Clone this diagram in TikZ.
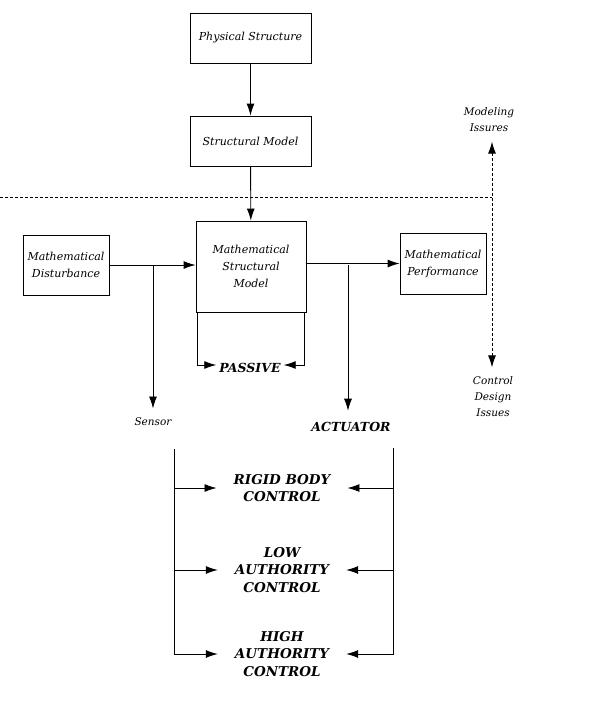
\documentclass[tikz,border=0pt]{standalone}
\usepackage{fontspec}
\setmainfont{DejaVu Serif}
\usepackage{tikz}
\usetikzlibrary{arrows.meta}

\tikzset{
    box/.style={draw, line width=0.9pt, align=center, inner sep=1pt,
        font=\fontsize{11}{17}\selectfont\itshape},
    bigtxt/.style={align=center, inner xsep=17pt,
        font=\fontsize{13.5}{17.5}\selectfont\bfseries\itshape},
    smalltxt/.style={align=center, font=\fontsize{10.5}{16}\selectfont\itshape},
    link/.style={line width=0.9pt, -{Latex[length=12pt,width=8pt]}},
    issue/.style={line width=0.9pt, dash pattern=on 2.5pt off 2.5pt},
}

\begin{document}
\begin{tikzpicture}[x=1pt, y=-1pt]
        \useasboundingbox (0,0) rectangle (590,710);

        \node[box, minimum width=121pt, minimum height=50pt] (phys) at (250.5,38)  {Physical Structure};
        \node[box, minimum width=121pt, minimum height=50pt] (smod) at (250.5,141) {Structural Model};
        \node[box, minimum width=86pt,  minimum height=60pt] (dist) at (66,265)    {Mathematical\\Disturbance};
        \node[box, minimum width=110pt, minimum height=91pt] (msm)  at (251,266.5) {Mathematical\\Structural\\Model};
        \node[box, minimum width=86pt,  minimum height=61pt] (perf) at (443,263.5) {Mathematical\\Performance};

        \node[bigtxt, inner xsep=3pt, font=\fontsize{12.5}{17}\selectfont\bfseries\itshape] (passive) at (250,368) {PASSIVE};
        \node[smalltxt] (sensor) at (153,422) {Sensor};
        \node[bigtxt, inner xsep=3pt, font=\fontsize{12.5}{17}\selectfont\bfseries\itshape] (actuator) at (351,427) {ACTUATOR};

        \node[bigtxt] (rigid) at (282,488) {RIGID BODY\\CONTROL};
        \node[bigtxt] (low)   at (282,570) {LOW\\AUTHORITY\\CONTROL};
        \node[bigtxt] (high)  at (282,654) {HIGH\\AUTHORITY\\CONTROL};

        \node[smalltxt] (modiss) at (489,120) {Modeling\\Issures};
        \node[smalltxt] (ctliss) at (493,397) {Control\\Design\\Issues};

        \coordinate (dleft)  at (0,197);
        \coordinate (dcross) at (492,197);
        \coordinate (sbr)    at (153,265);
        \coordinate (abr)    at (348,265);
        \coordinate (stop)   at (174,449);
        \coordinate (atop)   at (393,448);

        \draw[link] (phys) -- (smod);
        \draw[link] (smod) -- (msm);
        \draw[link] (dist.east) -- (dist.east -| msm.west);
        \draw[link] (msm.east |- perf.west) -- (perf.west);

        \draw[link, shorten >=6pt] (sbr) -- (sbr |- sensor.north);
        \draw[link, shorten >=8pt] (abr) -- (abr |- actuator.north);

        \draw[link] ([xshift=2pt]msm.south west) |- ([yshift=3pt]passive.west);
        \draw[link] ([xshift=-2pt]msm.south east) |- ([yshift=3pt]passive.east);

        \draw[link] (stop) |- (high.west);
        \draw[link] (rigid.west -| stop) -- (rigid.west);
        \draw[link] (low.west -| stop) -- (low.west);
        \draw[link] (atop) |- (high.east);
        \draw[link] (rigid.east -| atop) -- (rigid.east);
        \draw[link] (low.east -| atop) -- (low.east);

        \draw[issue] (dleft) -- (dcross);
        \draw[issue, {Latex[length=12pt,width=8pt]}-{Latex[length=12pt,width=8pt]}, shorten <=6pt, shorten >=6pt]
            (dcross |- modiss.south) -- (dcross |- ctliss.north);
    \end{tikzpicture}
\end{document}
